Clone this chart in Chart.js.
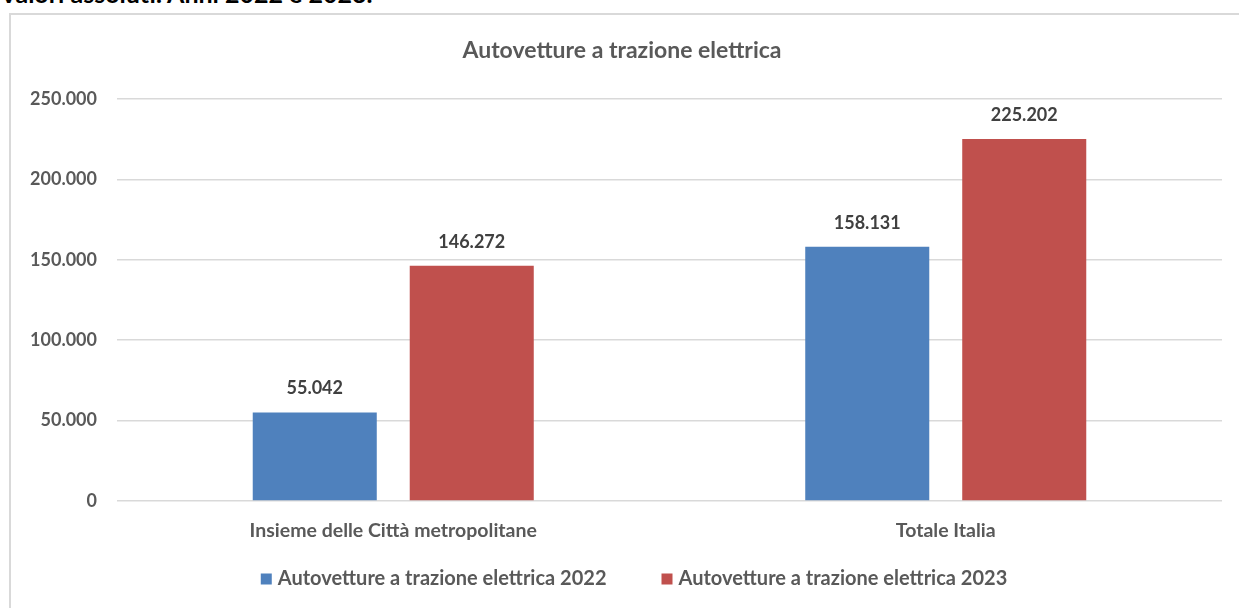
<!DOCTYPE html>
<html lang="it">
<head>
<meta charset="utf-8">
<title>Autovetture a trazione elettrica</title>
<script src="https://cdn.jsdelivr.net/npm/chart.js@4.4.1/dist/chart.umd.min.js"></script>
<style>
  html, body { margin: 0; padding: 0; background: #fff; overflow: hidden; }
  body { width: 1239px; height: 608px; position: relative; }
  #heading {
    position: absolute; left: 0; top: -19px;
    font: bold 25px Lato, sans-serif; line-height: 25px;
    color: #000; white-space: nowrap;
  }
  #frame {
    position: absolute; left: 9px; top: 13px; width: 1250px; height: 620px;
    border: 2px solid #d9d9d9; box-sizing: border-box;
  }
  #myChart { position: absolute; left: 0; top: 0; }
</style>
</head>
<body>
<div id="heading">Valori assoluti. Anni 2022 e 2023.</div>
<div id="frame"></div>
<canvas id="myChart" width="1239" height="608"></canvas>
<script>
const chartTitle = 'Autovetture a trazione elettrica';
const categories = ['Insieme delle Città metropolitane', 'Totale Italia'];
const seriesNames = ['Autovetture a trazione elettrica 2022', 'Autovetture a trazione elettrica 2023'];
const values2022 = [55042, 158131];
const values2023 = [146272, 225202];
const yMax = 250000;
const yStep = 50000;

const grey = '#595959';
const fontFamily = 'Lato, "Open Sans", sans-serif';

// separatore delle migliaia col punto
function fmt(n) {
    return String(n).replace(/\B(?=(\d{3})+(?!\d))/g, '.');
}

// titolo disegnato a mano per centrarlo come nell'originale
const topTitle = {
    id: 'topTitle',
    afterDraw(chart) {
        const ctx = chart.ctx;
        ctx.save();
        ctx.font = 'bold 23px ' + fontFamily;
        ctx.fillStyle = grey;
        ctx.textAlign = 'center';
        ctx.textBaseline = 'middle';
        ctx.fillText(chartTitle, 622, 51);
        ctx.restore();
    }
};

const valueLabels = {
    id: 'valueLabels',
    afterDatasetsDraw(chart) {
        const ctx = chart.ctx;
        ctx.save();
        ctx.font = 'bold 18px ' + fontFamily;
        ctx.fillStyle = '#404040';
        ctx.textAlign = 'center';
        ctx.textBaseline = 'middle';
        chart.data.datasets.forEach((ds, i) => {
            chart.getDatasetMeta(i).data.forEach((bar, j) => {
                ctx.fillText(fmt(ds.data[j]), bar.x, bar.y - 24);
            });
        });
        ctx.restore();
    }
};

const bottomLegend = {
    id: 'bottomLegend',
    afterDraw(chart) {
        const ctx = chart.ctx;
        const box = 11, gapBox = 6, gapItem = 55;
        ctx.save();
        ctx.font = 'bold 20px ' + fontFamily;
        const items = chart.data.datasets.map(ds => ({
            text: ds.label,
            color: ds.backgroundColor,
            w: box + gapBox + ctx.measureText(ds.label).width
        }));
        const total = items.reduce((s, it) => s + it.w, 0) + gapItem * (items.length - 1);
        let x = 634 - total / 2;
        const y = 579;
        ctx.textBaseline = 'middle';
        ctx.textAlign = 'left';
        items.forEach(it => {
            ctx.fillStyle = it.color;
            ctx.fillRect(x, y - box / 2, box, box);
            ctx.fillStyle = grey;
            ctx.fillText(it.text, x + box + gapBox, y);
            x += it.w + gapItem;
        });
        ctx.restore();
    }
};

const ctx = document.getElementById('myChart').getContext('2d');

new Chart(ctx, {
    type: 'bar',
    data: {
        labels: categories,
        datasets: [{
            label: seriesNames[0],
            data: values2022,
            backgroundColor: '#4f81bd',
            borderWidth: 0
        }, {
            label: seriesNames[1],
            data: values2023,
            backgroundColor: '#c0504d',
            borderWidth: 0
        }]
    },
    options: {
        responsive: false,
        animation: false,
        categoryPercentage: 0.5683,
        barPercentage: 0.79,
        layout: {
            padding: { left: 0, right: 17, top: 99, bottom: 49 }
        },
        plugins: {
            legend: { display: false },
            tooltip: { enabled: false },
            title: { display: false }
        },
        scales: {
            x: {
                grid: { display: false },
                border: { display: false },
                ticks: {
                    color: grey,
                    padding: 10,
                    font: { family: fontFamily, size: 19.5, weight: 'bold' }
                },
                afterFit: scale => { scale.height = 58; }
            },
            y: {
                min: 0,
                max: yMax,
                grid: { color: '#d9d9d9', lineWidth: 1.5, drawTicks: false },
                border: { display: false },
                ticks: {
                    stepSize: yStep,
                    color: grey,
                    padding: 20,
                    font: { family: fontFamily, size: 18, weight: 'bold' },
                    callback: v => fmt(v)
                },
                afterFit: scale => { scale.width = 117; }
            }
        }
    },
    plugins: [topTitle, valueLabels, bottomLegend]
});
</script>
</body>
</html>
